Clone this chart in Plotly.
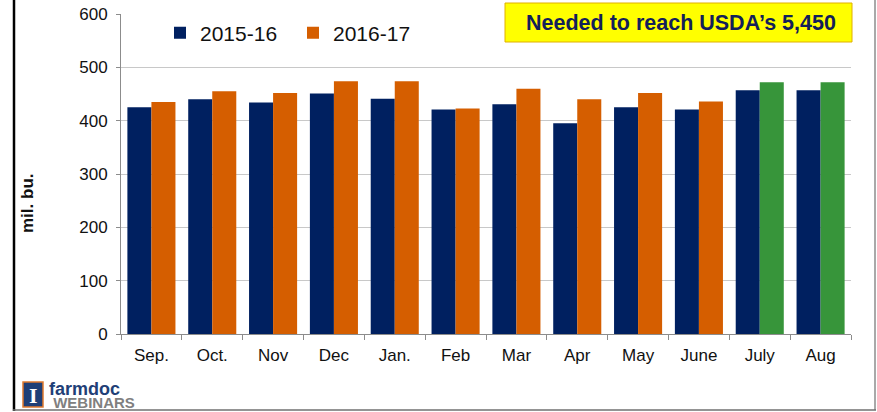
import plotly.graph_objects as go

# ---------------------------------------------------------------------------
# Data
# ---------------------------------------------------------------------------
months = ["Sep.", "Oct.", "Nov", "Dec", "Jan.", "Feb", "Mar", "Apr", "May", "June", "July", "Aug"]
vals_2015_16 = [425, 440, 434, 451, 441, 421, 431, 395, 425, 421, 457, 457]
vals_2016_17 = [435, 455, 452, 474, 474, 423, 460, 440, 452, 436, 472, 472]
needed_months = ["July", "Aug"]  # 2016-17 bars shown as "needed" (green)

NAVY = "#002060"
ORANGE = "#D55E00"
GREEN = "#37953A"
FONT = "Liberation Sans, Arial, sans-serif"

W, H = 877, 412
ML, MR, MT, MB = 121, 26, 14, 78
PW, PH = W - ML - MR, H - MT - MB


def px_x(px: float) -> float:
    """Pixel x in the page -> paper x."""
    return (px - ML) / PW


def px_y(py: float) -> float:
    """Pixel y (from top) in the page -> paper y."""
    return (H - MB - py) / PH


def _text(fig, text, x, y, size, color="#111111", family=FONT, xanchor="center", angle=0):
    fig.add_annotation(
        text=text, xref="paper", yref="paper", x=px_x(x), y=px_y(y),
        xanchor=xanchor, yanchor="middle", showarrow=False, textangle=angle,
        align="left" if xanchor == "left" else "center",
        font=dict(size=size, family=family, color=color),
    )


colors_2016_17 = [GREEN if m in needed_months else ORANGE for m in months]

fig = go.Figure()
fig.add_trace(go.Bar(
    x=months, y=vals_2015_16, name="2015-16",
    marker=dict(color=NAVY, line=dict(width=0)),
))
fig.add_trace(go.Bar(
    x=months, y=vals_2016_17, name="2016-17",
    marker=dict(color=colors_2016_17, line=dict(width=0)),
))

fig.update_layout(
    width=W, height=H,
    margin=dict(l=ML, r=MR, t=MT, b=MB, autoexpand=False),
    paper_bgcolor="white", plot_bgcolor="white",
    font=dict(family=FONT, color="#111111", size=16),
    barmode="group", bargap=0.21, bargroupgap=0,
    showlegend=True,
    legend=dict(
        orientation="h", x=px_x(160), y=px_y(33), xanchor="left", yanchor="middle",
        font=dict(size=21, family=FONT, color="#111111"),
        bgcolor="rgba(0,0,0,0)", itemwidth=30, entrywidth=88,
    ),
    xaxis=dict(
        type="category", tickson="boundaries", ticks="outside", ticklen=5,
        tickcolor="#8c8c8c", showline=True, linecolor="#8c8c8c", linewidth=1,
        tickfont=dict(size=17), showgrid=False, ticklabelstandoff=6,
    ),
    yaxis=dict(
        range=[0, 600], dtick=100, ticks="outside", ticklen=4, tickcolor="#8c8c8c",
        showline=True, linecolor="#8c8c8c", linewidth=1,
        gridcolor="#c8c8c8", gridwidth=1, tickfont=dict(size=17),
        zeroline=False, ticklabelstandoff=5,
    ),
)

# Y-axis title
_text(fig, "<b>mil. bu.</b>", 27, 203, 17, angle=-90)

# Yellow callout box
fig.add_shape(
    type="rect", xref="paper", yref="paper",
    x0=px_x(505), x1=px_x(852), y0=px_y(42), y1=px_y(3),
    fillcolor="#FFFF00", line=dict(color="#E0B000", width=1),
)
_text(fig, "<b>Needed to reach USDA\u2019s 5,450</b>", 681, 23, 21.5, color="#13205A")

# Slide frame
fig.add_shape(type="line", xref="paper", yref="paper",
              x0=px_x(14), x1=px_x(14), y0=px_y(-5), y1=px_y(411),
              line=dict(color="black", width=2.5))
fig.add_shape(type="line", xref="paper", yref="paper",
              x0=px_x(875), x1=px_x(875), y0=px_y(-5), y1=px_y(410),
              line=dict(color="#707070", width=1.2))
fig.add_shape(type="line", xref="paper", yref="paper",
              x0=px_x(13), x1=px_x(876), y0=px_y(410), y1=px_y(410),
              line=dict(color="#707070", width=1.5))

# farmdoc logo
fig.add_shape(type="rect", xref="paper", yref="paper",
              x0=px_x(23), x1=px_x(43), y0=px_y(407), y1=px_y(382),
              fillcolor="#1F3F77", line=dict(color="#E07A2E", width=1.5))
_text(fig, "<b>I</b>", 33, 395, 22, color="white", family="Liberation Serif, serif")
_text(
    fig,
    "<span style='font-size:18px;color:#1F3F77'><b>farmdoc</b></span><br>"
    "<span style='font-size:15px;color:#808080'><b>\u00a0WEBINARS</b></span>",
    47, 395, 10, xanchor="left",
)

# drop the default 8px page margin so the figure sits at the window origin
fig.write_html(
    "out.html",
    config={"displayModeBar": False},
    post_script="document.body.style.margin='0';",
)
